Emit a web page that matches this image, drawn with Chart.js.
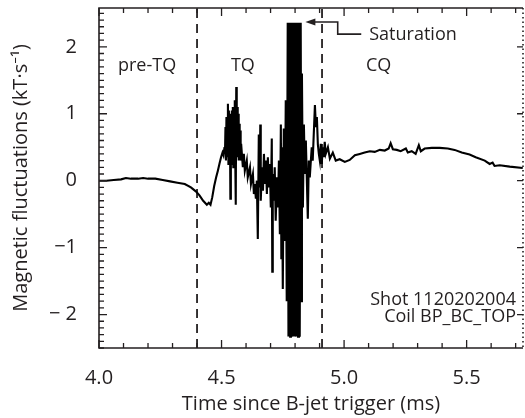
<!DOCTYPE html>
<html>
<head>
<meta charset="utf-8">
<script src="https://cdn.jsdelivr.net/npm/chart.js@4/dist/chart.umd.min.js"></script>
<style>
  html, body { margin: 0; padding: 0; background: #fff; }
  #wrap { width: 525px; height: 418px; }
</style>
</head>
<body>
<div id="wrap"><canvas id="chart" width="525" height="418"></canvas></div>
<script>
// Signal: time (ms) and dB/dt (kT/s)
const timeMs = [
  4.000, 4.030, 4.060, 4.090, 4.110, 4.130, 4.160, 4.180, 4.200, 4.230,
  4.260, 4.290, 4.320, 4.350, 4.375, 4.395, 4.410, 4.425, 4.440, 4.448,
  4.455, 4.462, 4.470, 4.478, 4.485, 4.492, 4.498, 4.504, 4.508, 4.512,
  4.514, 4.516, 4.518, 4.520, 4.522, 4.524, 4.526, 4.528, 4.530, 4.532,
  4.534, 4.536, 4.538, 4.540, 4.542, 4.544, 4.546, 4.548, 4.550, 4.552,
  4.554, 4.556, 4.558, 4.560, 4.562, 4.564, 4.566, 4.568, 4.570, 4.572,
  4.574, 4.576, 4.578, 4.580, 4.587, 4.591, 4.595, 4.603, 4.607, 4.616,
  4.620, 4.628, 4.632, 4.636, 4.640, 4.644, 4.648, 4.652, 4.656, 4.658,
  4.660, 4.665, 4.669, 4.673, 4.677, 4.681, 4.685, 4.689, 4.693, 4.697,
  4.701, 4.705, 4.707, 4.709, 4.713, 4.717, 4.721, 4.726, 4.730, 4.734,
  4.738, 4.742, 4.744, 4.746, 4.750, 4.754, 4.758, 4.762, 4.766, 4.770,
  4.773, 4.777, 4.780, 4.783, 4.786, 4.790, 4.793, 4.796, 4.799, 4.803,
  4.806, 4.809, 4.812, 4.816, 4.819, 4.823, 4.826, 4.828, 4.832, 4.836,
  4.840, 4.844, 4.852, 4.856, 4.860, 4.868, 4.872, 4.881, 4.885, 4.889,
  4.893, 4.897, 4.901, 4.905, 4.909, 4.913, 4.917, 4.921, 4.925, 4.934,
  4.942, 4.954, 4.966, 4.982, 5.003, 5.023, 5.044, 5.064, 5.084, 5.105,
  5.125, 5.146, 5.166, 5.182, 5.190, 5.199, 5.215, 5.231, 5.252, 5.260,
  5.276, 5.292, 5.305, 5.313, 5.329, 5.358, 5.390, 5.423, 5.451, 5.480,
  5.512, 5.537, 5.574, 5.594, 5.606, 5.614, 5.635, 5.676, 5.729
];
const fluct = [
  0.00, 0.00, 0.01, 0.02, 0.04, 0.03, 0.03, 0.04, 0.03, 0.03,
  0.01, -0.01, -0.03, -0.05, -0.10, -0.16, -0.22, -0.30, -0.36, -0.33,
  -0.36, -0.25, -0.08, 0.05, 0.15, 0.26, 0.35, 0.42, 0.38, 0.50,
  0.40, 0.80, 0.30, 0.95, 0.35, 0.90, 1.15, 0.25, 1.05, 0.30,
  1.00, -0.27, 0.95, 0.25, 1.05, 0.35, 1.10, 0.20, 1.00, 0.40,
  1.20, 0.30, -0.36, 1.40, 0.50, 1.10, 0.35, 1.00, 0.30, 0.85,
  0.35, 0.75, 0.30, 0.55, 0.20, 0.40, 0.15, 0.30, 0.05, 0.20,
  -0.05, 0.10, -0.20, -0.05, -0.27, 0.00, -0.87, 0.69, -0.10, 0.84,
  -0.30, 0.20, -0.15, 0.40, -0.05, 0.30, -0.20, 0.35, -0.10, 0.25,
  -0.40, 0.63, -1.36, 0.10, -0.30, 0.20, -0.60, 0.05, -0.40, 0.30,
  -0.80, 0.84, -1.16, 0.50, -1.62, 0.78, -0.90, 1.20, -1.80, 2.36,
  -2.33, 2.36, -2.33, 2.36, -2.33, 2.36, -2.33, 2.36, -2.33, 2.36,
  -2.33, 2.36, -2.33, 2.36, -2.33, 2.36, -1.80, 1.60, -0.40, 0.84,
  0.10, 0.60, -0.57, 0.30, 0.05, 0.50, 0.30, 1.13, 0.80, 0.95,
  0.54, 0.40, 0.30, 0.55, 0.25, 0.50, 0.35, 0.58, 0.40, 0.50,
  0.33, 0.42, 0.30, 0.32, 0.28, 0.31, 0.38, 0.40, 0.42, 0.44,
  0.43, 0.46, 0.45, 0.48, 0.56, 0.47, 0.46, 0.44, 0.48, 0.42,
  0.44, 0.40, 0.53, 0.44, 0.48, 0.49, 0.49, 0.48, 0.46, 0.42,
  0.39, 0.35, 0.30, 0.25, 0.27, 0.22, 0.23, 0.21, 0.19
];

// Phase boundaries and labels
const boundaryTimes = [4.40, 4.91];
const phaseLabels = ["pre-TQ", "TQ", "CQ"];
const phaseLabelTimes = [4.196, 4.587, 5.141];
const phaseLabelValue = 1.72;

// Saturation callout (arrow path in data units)
const arrowTimes = [4.842, 4.974, 4.974, 5.070];
const arrowValues = [2.37, 2.37, 2.19, 2.19];
const calloutText = "Saturation";

const shotInfo = ["Shot 1120202004", "Coil BP_BC_TOP"];
const shotInfoValues = [-1.78, -2.03];

const xRange = [4.0, 5.73];
const yRange = [-2.5, 2.58];

const INK = "#231f20";
Chart.defaults.font.family = "'Open Sans', 'Noto Sans', sans-serif";
Chart.defaults.color = INK;

const signal = timeMs.map((t, i) => ({ x: t, y: fluct[i] }));
const boundarySets = boundaryTimes.map((t) => ({
  data: [{ x: t, y: yRange[0] }, { x: t, y: yRange[1] }],
  borderColor: INK,
  borderWidth: 1.8,
  borderDash: [9, 6],
  pointRadius: 0,
}));

function isMult(v, step) {
  return Math.abs(v / step - Math.round(v / step)) < 1e-6;
}

// frame, inward ticks and text annotations
const decorPlugin = {
  id: "decor",
  afterDatasetsDraw(chart) {
    const { ctx, chartArea: a, scales } = chart;
    const x = scales.x, y = scales.y;
    ctx.save();
    ctx.strokeStyle = INK;
    ctx.fillStyle = INK;

    ctx.lineWidth = 1.6;
    ctx.beginPath();
    ctx.moveTo(a.right, a.top);
    ctx.lineTo(a.left, a.top);
    ctx.lineTo(a.left, a.bottom);
    ctx.lineTo(a.right, a.bottom);
    ctx.stroke();
    ctx.setLineDash([1.5, 3]);
    ctx.beginPath();
    ctx.moveTo(a.right, a.top);
    ctx.lineTo(a.right, a.bottom);
    ctx.stroke();
    ctx.setLineDash([]);

    ctx.lineWidth = 1.3;
    ctx.beginPath();
    x.ticks.forEach((t) => {
      const px = x.getPixelForValue(t.value);
      const len = t.label ? 8 : 5;
      ctx.moveTo(px, a.bottom);
      ctx.lineTo(px, a.bottom - len);
      ctx.moveTo(px, a.top);
      ctx.lineTo(px, a.top + len);
    });
    y.ticks.forEach((t) => {
      const py = y.getPixelForValue(t.value);
      const len = t.label ? 8 : 5;
      ctx.moveTo(a.left, py);
      ctx.lineTo(a.left + len, py);
      if (t.label) {
        ctx.moveTo(a.right, py);
        ctx.lineTo(a.right - 6, py);
      }
    });
    ctx.stroke();

    // callout arrow
    ctx.lineWidth = 1.6;
    ctx.beginPath();
    arrowTimes.forEach((t, i) => {
      const px = x.getPixelForValue(t), py = y.getPixelForValue(arrowValues[i]);
      if (i === 0) ctx.moveTo(px + 6, py); else ctx.lineTo(px, py);
    });
    ctx.stroke();
    const tipX = x.getPixelForValue(arrowTimes[0]), tipY = y.getPixelForValue(arrowValues[0]);
    ctx.beginPath();
    ctx.moveTo(tipX, tipY);
    ctx.lineTo(tipX + 10, tipY - 3.5);
    ctx.lineTo(tipX + 10, tipY + 3.5);
    ctx.closePath();
    ctx.fill();

    ctx.font = "18px 'Open Sans', 'Noto Sans', sans-serif";
    ctx.textBaseline = "middle";
    ctx.textAlign = "left";
    const endI = arrowTimes.length - 1;
    ctx.fillText(calloutText, x.getPixelForValue(arrowTimes[endI]) + 8, y.getPixelForValue(arrowValues[endI]) + 1);

    ctx.textAlign = "center";
    phaseLabels.forEach((lab, i) => {
      ctx.fillText(lab, x.getPixelForValue(phaseLabelTimes[i]), y.getPixelForValue(phaseLabelValue));
    });

    ctx.textAlign = "right";
    shotInfo.forEach((s, i) => {
      ctx.fillText(s, a.right - 7, y.getPixelForValue(shotInfoValues[i]));
    });
    ctx.restore();
  },
};

new Chart(document.getElementById("chart"), {
  type: "line",
  data: {
    datasets: [
      {
        data: signal,
        borderColor: "#000",
        borderWidth: 2.1,
        pointRadius: 0,
        tension: 0,
      },
      ...boundarySets,
    ],
  },
  options: {
    responsive: false,
    animation: false,
    events: [],
    plugins: { legend: { display: false }, tooltip: { enabled: false } },
    layout: { padding: { top: 8, right: 2, left: 0, bottom: 0 } },
    scales: {
      x: {
        type: "linear",
        min: xRange[0],
        max: xRange[1],
        grid: { display: false },
        border: { display: false },
        ticks: {
          stepSize: 0.1,
          includeBounds: false,
          autoSkip: false,
          maxRotation: 0,
          padding: 10,
          font: { size: 20 },
          color: INK,
          callback: (v) => (isMult(v, 0.5) ? v.toFixed(1) : ""),
        },
        title: {
          display: true,
          text: "Time since B-jet trigger (ms)",
          font: { size: 20 },
          color: INK,
          padding: { top: 0, bottom: 2 },
        },
        afterFit: (s) => {
          s.height = 70;
          s.paddingLeft = 0;
          s.paddingRight = 0;
        },
      },
      y: {
        type: "linear",
        min: yRange[0],
        max: yRange[1],
        grid: { display: false },
        border: { display: false },
        ticks: {
          stepSize: 0.1,
          includeBounds: false,
          autoSkip: false,
          padding: 14,
          font: { size: 20 },
          color: INK,
          callback: (v) => {
            if (!isMult(v, 1)) return "";
            const n = Math.round(v);
            if (n === -2) return "\u2212 2";
            if (n < 0) return "\u2212" + Math.abs(n);
            return String(n);
          },
        },
        title: {
          display: true,
          text: "Magnetic fluctuations (kT\u00b7s\u207b\u00b9)",
          font: { size: 20 },
          color: INK,
          padding: { top: 9, bottom: 0 },
        },
        afterFit: (s) => {
          s.width = 99;
          s.paddingTop = 0;
          s.paddingBottom = 0;
        },
      },
    },
  },
  plugins: [decorPlugin],
});
</script>
</body>
</html>
